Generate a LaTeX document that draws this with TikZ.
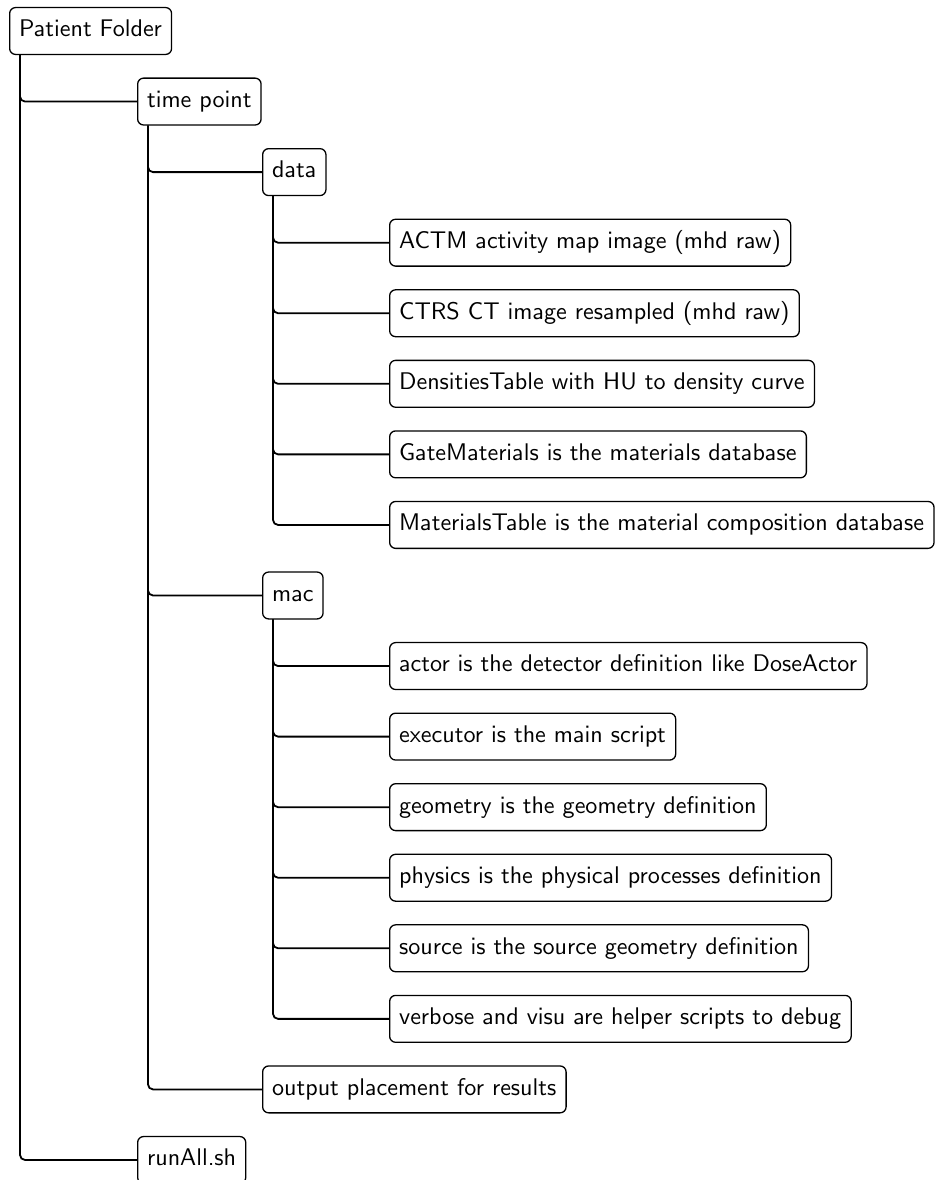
\documentclass[tikz,border=0pt]{standalone}
\font\boxfont=cmss10 at 24.1pt
\begin{document}
\begin{tikzpicture}[x=1pt,y=-1pt,
  box/.style={draw, line width=1.3pt, rounded corners=6pt, fill=white, anchor=west,
    font=\boxfont, text height=16.7pt, text depth=5pt,
    inner xsep=9.5pt, inner ysep=12.6pt},
  conn/.style={line width=1.8pt, rounded corners=5pt}]
\useasboundingbox (0,0) rectangle (937,1180);
\def\rowh{70.56}
\node[box] (pf) at (9,31) {Patient Folder};
\node[box] (tp) at (137,{31+1*\rowh}) {time point};
\node[box] (data) at (262,{31+2*\rowh}) {data};
\node[box] (actm) at (389,{31+3*\rowh}) {ACTM activity map image (mhd raw)};
\node[box] (ctrs) at (389,{31+4*\rowh}) {CTRS CT image resampled (mhd raw)};
\node[box] (dens) at (389,{31+5*\rowh}) {DensitiesTable with HU to density curve};
\node[box] (gate) at (389,{31+6*\rowh}) {GateMaterials is the materials database};
\node[box] (matt) at (389,{31+7*\rowh}) {MaterialsTable is the material composition database};
\node[box] (mac) at (262,{31+8*\rowh}) {mac};
\node[box] (actor) at (389,{31+9*\rowh}) {actor is the detector definition like DoseActor};
\node[box] (exec) at (389,{31+10*\rowh}) {executor is the main script};
\node[box] (geom) at (389,{31+11*\rowh}) {geometry is the geometry definition};
\node[box] (phys) at (389,{31+12*\rowh}) {physics is the physical processes definition};
\node[box] (src) at (389,{31+13*\rowh}) {source is the source geometry definition};
\node[box] (verb) at (389,{31+14*\rowh}) {verbose and visu are helper scripts to debug};
\node[box] (out) at (262,{31+15*\rowh}) {output placement for results};
\node[box] (run) at (137,{31+16*\rowh}) {runAll.sh};
\foreach \p/\c in {pf/tp, pf/run, tp/data, tp/mac, tp/out,
  data/actm, data/ctrs, data/dens, data/gate, data/matt,
  mac/actor, mac/exec, mac/geom, mac/phys, mac/src, mac/verb}
  \draw[conn] ([xshift=11pt]\p.south west) |- (\c.west);
\end{tikzpicture}
\end{document}
